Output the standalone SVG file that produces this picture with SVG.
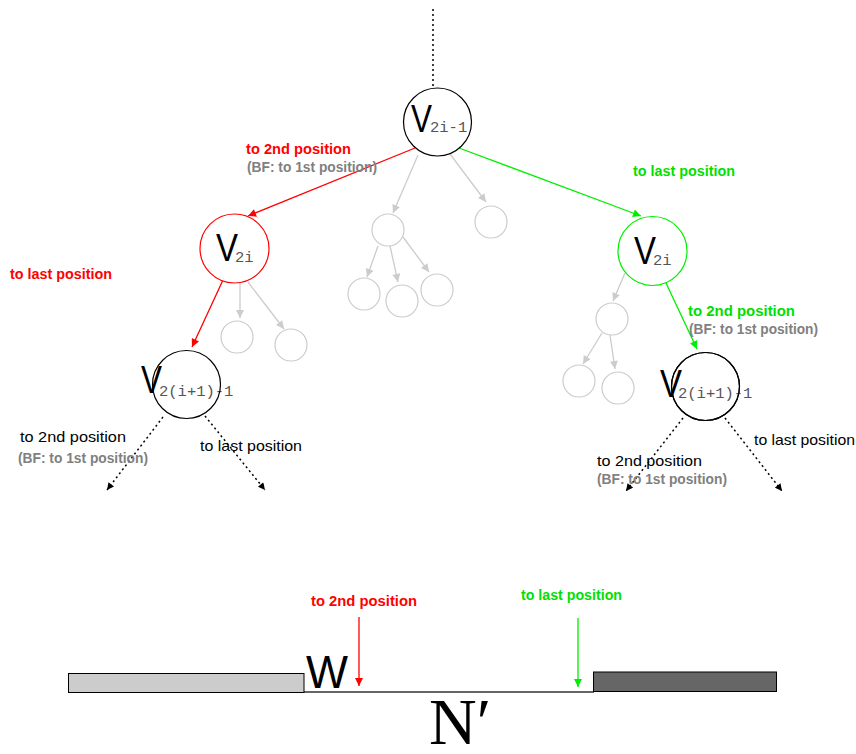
<svg xmlns="http://www.w3.org/2000/svg" width="856" height="754" viewBox="0 0 856 754">
  <style>
    .node { fill: #ffffff; stroke-width: 1.2; }
    .blk { stroke: #000000; }
    .red { stroke: #ff0000; }
    .grn { stroke: #00ee00; }
    .ghost { fill: #ffffff; stroke: #cccccc; stroke-width: 1.2; }
    .V { font-family: "Liberation Sans", Arial, sans-serif; font-size: 38px; fill: #000000; }
    .sub { font-family: "Liberation Mono", "DejaVu Sans Mono", monospace; font-size: 15.5px; fill: #555555; }
    .lbl { font-family: "Liberation Sans", Arial, sans-serif; font-size: 14.5px; font-weight: bold; }
    .plain { font-family: "Liberation Sans", Arial, sans-serif; font-size: 15px; fill: #000000; }
    .tr { fill: #ff0000; }
    .tg { fill: #00e000; }
    .tgray { fill: #808080; }
    .e-red { stroke: #ff0000; stroke-width: 1.3; fill: none; }
    .e-grn { stroke: #00ee00; stroke-width: 1.3; fill: none; }
    .e-gray { stroke: #cccccc; stroke-width: 1.3; fill: none; }
    .e-dot { stroke: #000000; stroke-width: 1.5; stroke-dasharray: 2 3; fill: none; }
  </style>
  <defs>
    <marker id="ah-red" viewBox="0 0 10 10" refX="10" refY="5" markerWidth="10" markerHeight="8" markerUnits="userSpaceOnUse" orient="auto">
      <path d="M0,0 L10,5 L0,10 Z" fill="#ff0000"/>
    </marker>
    <marker id="ah-grn" viewBox="0 0 10 10" refX="10" refY="5" markerWidth="10" markerHeight="8" markerUnits="userSpaceOnUse" orient="auto">
      <path d="M0,0 L10,5 L0,10 Z" fill="#00ee00"/>
    </marker>
    <marker id="ah-gray" viewBox="0 0 10 10" refX="10" refY="5" markerWidth="10" markerHeight="8" markerUnits="userSpaceOnUse" orient="auto">
      <path d="M0,0 L10,5 L0,10 Z" fill="#cccccc"/>
    </marker>
    <marker id="ah-blk" viewBox="0 0 10 10" refX="10" refY="5" markerWidth="9" markerHeight="7" markerUnits="userSpaceOnUse" orient="auto">
      <path d="M0,0 L10,5 L0,10 Z" fill="#000000"/>
    </marker>
  </defs>

  <rect width="856" height="754" fill="#ffffff"/>

  <!-- connectors -->
  <g id="connectors">
    <line class="e-dot" x1="433" y1="9" x2="433" y2="87"/>
    <line class="e-red" x1="415" y1="148" x2="248" y2="216" marker-end="url(#ah-red)"/>
    <line class="e-grn" x1="459" y1="148" x2="641" y2="216" marker-end="url(#ah-grn)"/>
    <line class="e-gray" x1="418" y1="155" x2="393" y2="213" marker-end="url(#ah-gray)"/>
    <line class="e-gray" x1="450" y1="154" x2="486" y2="202" marker-end="url(#ah-gray)"/>
    <line class="e-gray" x1="378" y1="246" x2="367" y2="277" marker-end="url(#ah-gray)"/>
    <line class="e-gray" x1="390" y1="246" x2="398" y2="282" marker-end="url(#ah-gray)"/>
    <line class="e-gray" x1="403" y1="237" x2="429" y2="272" marker-end="url(#ah-gray)"/>

    <line class="e-red" x1="223" y1="280" x2="192" y2="347" marker-end="url(#ah-red)"/>
    <line class="e-gray" x1="240" y1="283" x2="240" y2="318" marker-end="url(#ah-gray)"/>
    <line class="e-gray" x1="248" y1="282" x2="284" y2="329" marker-end="url(#ah-gray)"/>

    <line class="e-grn" x1="666" y1="283" x2="697" y2="349" marker-end="url(#ah-grn)"/>
    <line class="e-gray" x1="625" y1="273" x2="613" y2="301" marker-end="url(#ah-gray)"/>
    <line class="e-gray" x1="602" y1="333" x2="583" y2="364" marker-end="url(#ah-gray)"/>
    <line class="e-gray" x1="610" y1="335" x2="615" y2="369" marker-end="url(#ah-gray)"/>

    <line class="e-dot" x1="163" y1="417" x2="107" y2="490" marker-end="url(#ah-blk)"/>
    <line class="e-dot" x1="205" y1="416" x2="265" y2="490" marker-end="url(#ah-blk)"/>
    <line class="e-dot" x1="683" y1="418" x2="626" y2="491" marker-end="url(#ah-blk)"/>
    <line class="e-dot" x1="725" y1="418" x2="782" y2="491" marker-end="url(#ah-blk)"/>

    <line class="e-red" x1="359" y1="617" x2="359" y2="686" marker-end="url(#ah-red)"/>
    <line class="e-grn" x1="578" y1="618" x2="578" y2="687" marker-end="url(#ah-grn)"/>
  </g>

  <!-- faded subtree nodes -->
  <g id="ghost-nodes">
    <circle class="ghost" cx="388" cy="230" r="16"/>
    <circle class="ghost" cx="491" cy="222" r="16"/>
    <circle class="ghost" cx="364" cy="294" r="16"/>
    <circle class="ghost" cx="402" cy="301" r="16"/>
    <circle class="ghost" cx="437" cy="290" r="16"/>
    <circle class="ghost" cx="237" cy="337" r="16"/>
    <circle class="ghost" cx="291" cy="345" r="16"/>
    <circle class="ghost" cx="612" cy="319" r="16"/>
    <circle class="ghost" cx="579" cy="381" r="16"/>
    <circle class="ghost" cx="618" cy="388" r="16"/>
  </g>

  <!-- V(2i-1) -->
  <g id="node-root">
    <circle class="node blk" cx="437.5" cy="122" r="34"/>
    <text class="V" x="411" y="132" textLength="21" lengthAdjust="spacingAndGlyphs">V</text>
    <text class="sub" x="430" y="132">2i-1</text>
  </g>

  <!-- V(2i), red branch -->
  <g id="node-red">
    <circle class="node red" cx="234.5" cy="248.5" r="34.5"/>
    <text class="V" x="216" y="261" textLength="22" lengthAdjust="spacingAndGlyphs">V</text>
    <text class="sub" x="235" y="262">2i</text>
  </g>

  <!-- V(2i), green branch -->
  <g id="node-green">
    <circle class="node grn" cx="652.5" cy="251" r="34.5"/>
    <text class="V" x="634" y="264" textLength="22" lengthAdjust="spacingAndGlyphs">V</text>
    <text class="sub" x="653" y="265">2i</text>
  </g>

  <!-- V(2(i+1)-1), left -->
  <g id="node-left">
    <text class="V" x="141" y="393" textLength="21" lengthAdjust="spacingAndGlyphs">V</text>
    <text class="sub" x="159" y="396">2(i+1)-1</text>
    <circle cx="186.5" cy="384.5" r="34" fill="none" stroke="#000000" stroke-width="1.2"/>
  </g>

  <!-- V(2(i+1)-1), right -->
  <g id="node-right">
    <circle class="node blk" cx="705.5" cy="386.5" r="34"/>
    <text class="V" x="660" y="397" textLength="22" lengthAdjust="spacingAndGlyphs">V</text>
    <text class="sub" x="678" y="398">2(i+1)-1</text>
    <circle cx="705.5" cy="386.5" r="34" fill="none" stroke="#000000" stroke-width="1.2"/>
  </g>

  <!-- edge labels -->
  <g id="labels">
    <text class="lbl tr" x="246" y="154" textLength="105" lengthAdjust="spacingAndGlyphs">to 2nd position</text>
    <text class="lbl tgray" x="247" y="172" textLength="130" lengthAdjust="spacingAndGlyphs">(BF: to 1st position)</text>
    <text class="lbl tg" x="633" y="176" textLength="102" lengthAdjust="spacingAndGlyphs">to last position</text>
    <text class="lbl tr" x="10" y="279" textLength="102" lengthAdjust="spacingAndGlyphs">to last position</text>
    <text class="lbl tg" x="688" y="316" textLength="107" lengthAdjust="spacingAndGlyphs">to 2nd position</text>
    <text class="lbl tgray" x="689" y="334" textLength="129" lengthAdjust="spacingAndGlyphs">(BF: to 1st position)</text>

    <text class="plain" x="20" y="442" textLength="106" lengthAdjust="spacingAndGlyphs">to 2nd position</text>
    <text class="lbl tgray" x="18" y="463" textLength="130" lengthAdjust="spacingAndGlyphs">(BF: to 1st position)</text>
    <text class="plain" x="200" y="451" textLength="102" lengthAdjust="spacingAndGlyphs">to last position</text>

    <text class="plain" x="754" y="445" textLength="101" lengthAdjust="spacingAndGlyphs">to last position</text>
    <text class="plain" x="597" y="466" textLength="105" lengthAdjust="spacingAndGlyphs">to 2nd position</text>
    <text class="lbl tgray" x="597" y="484" textLength="130" lengthAdjust="spacingAndGlyphs">(BF: to 1st position)</text>

    <text class="lbl tr" x="311" y="606" textLength="106" lengthAdjust="spacingAndGlyphs">to 2nd position</text>
    <text class="lbl tg" x="521" y="600" textLength="101" lengthAdjust="spacingAndGlyphs">to last position</text>
  </g>

  <!-- array strip -->
  <g id="array">
    <line x1="304" y1="692" x2="594" y2="692" stroke="#333333" stroke-width="1.5"/>
    <rect x="68.5" y="673.5" width="235.5" height="19" fill="#cccccc" stroke="#000000" stroke-width="1"/>
    <rect x="593.5" y="672" width="183" height="19.5" fill="#666666" stroke="#000000" stroke-width="1"/>
    <text x="306" y="688" font-family="Liberation Sans, Arial, sans-serif" font-size="46" fill="#000000" textLength="42" lengthAdjust="spacingAndGlyphs">W</text>
    <text x="429" y="744" font-family="Liberation Serif, Times New Roman, serif" font-size="66" fill="#000000">N′</text>
  </g>
</svg>
